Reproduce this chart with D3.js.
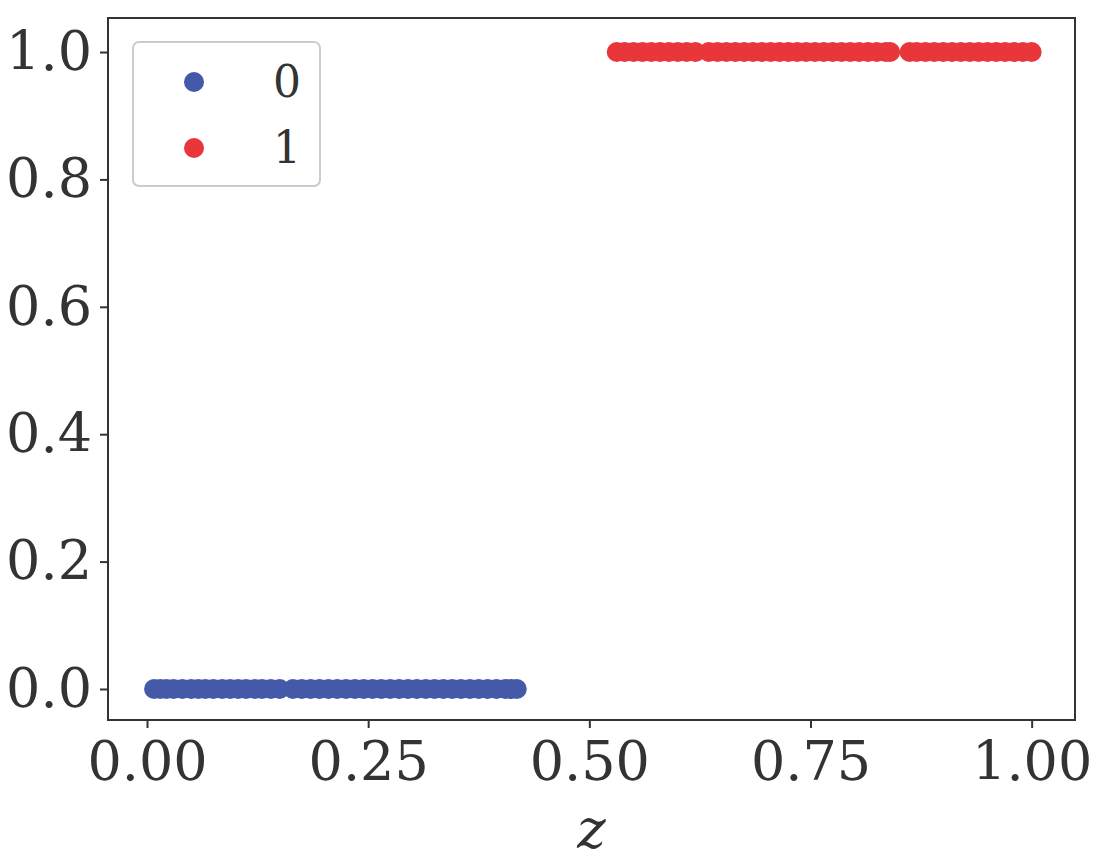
<!DOCTYPE html>
<html><head><meta charset="utf-8">
<script src="https://cdn.jsdelivr.net/npm/d3@7"></script>
<style>body{margin:0;background:#fff}text{font-family:"DejaVu Serif",serif;fill:#333}</style>
</head><body><svg id="c" width="1099" height="858"></svg>
<script>
// z values per class
const zClass0 = [0.008,0.015,0.022,0.03,0.04,0.05,0.058,0.066,0.075,0.085,0.094,0.103,0.112,0.122,0.13,0.14,0.15,0.165,0.175,0.185,0.195,0.205,0.215,0.225,0.235,0.245,0.255,0.265,0.275,0.285,0.295,0.305,0.315,0.325,0.335,0.345,0.355,0.365,0.375,0.385,0.395,0.405,0.412,0.418];
const zClass1 = [0.531,0.54,0.55,0.56,0.57,0.58,0.59,0.6,0.61,0.62,0.635,0.645,0.655,0.665,0.675,0.685,0.695,0.705,0.715,0.725,0.735,0.745,0.755,0.765,0.775,0.785,0.795,0.805,0.815,0.825,0.835,0.84,0.862,0.87,0.88,0.89,0.9,0.91,0.92,0.93,0.94,0.95,0.96,0.97,0.98,0.99,1.0];
const classes = ["0","1"];
const colors = ["#4559a9","#e8363b"];
const xTicks = [0,0.25,0.5,0.75,1];
const yTicks = [0,0.2,0.4,0.6,0.8,1];

const svg = d3.select("#c");
const L = 108, R = 1075, T = 18, B = 720;
const x = d3.scaleLinear().domain([-0.0441, 1.049]).range([L, R]);
const y = d3.scaleLinear().domain([-0.0487, 1.0534]).range([B, T]);

const gx = svg.append("g").attr("transform", `translate(0,${B})`)
  .call(d3.axisBottom(x).tickValues(xTicks).tickFormat(d3.format(".2f")).tickSize(8).tickPadding(14));
const gy = svg.append("g").attr("transform", `translate(${L},0)`)
  .call(d3.axisLeft(y).tickValues(yTicks).tickFormat(d3.format(".1f")).tickSize(8).tickPadding(8));
[gx, gy].forEach(g => {
  g.select(".domain").remove();
  g.selectAll("line").attr("stroke", "#333").attr("stroke-width", 2);
  g.selectAll("text").style("font-size", "54px").attr("fill", "#333");
});
svg.append("rect").attr("x", L).attr("y", T).attr("width", R - L).attr("height", B - T)
  .attr("fill", "none").attr("stroke", "#333").attr("stroke-width", 2);

const pts = zClass0.map(z => ({z, c: 0})).concat(zClass1.map(z => ({z, c: 1})));
svg.append("g").selectAll("circle").data(pts).enter().append("circle")
  .attr("cx", d => x(d.z)).attr("cy", d => y(d.c)).attr("r", 10)
  .attr("fill", d => colors[d.c]);

svg.append("text").attr("x", (L + R) / 2).attr("y", 848).attr("text-anchor", "middle")
  .style("font-size", "54px").style("font-style", "italic").text("z");

// legend
const lg = svg.append("g");
lg.append("rect").attr("x", 133).attr("y", 42).attr("width", 187).attr("height", 144).attr("rx", 6)
  .attr("fill", "#fff").attr("stroke", "#ccc").attr("stroke-width", 2);
classes.forEach((c, i) => {
  lg.append("circle").attr("cx", 194).attr("cy", 82 + i * 66).attr("r", 10).attr("fill", colors[i]);
  lg.append("text").attr("x", 287).attr("y", 82 + i * 66).attr("dy", "0.35em").attr("text-anchor", "middle")
    .style("font-size", "44px").text(c);
});
</script></body></html>
